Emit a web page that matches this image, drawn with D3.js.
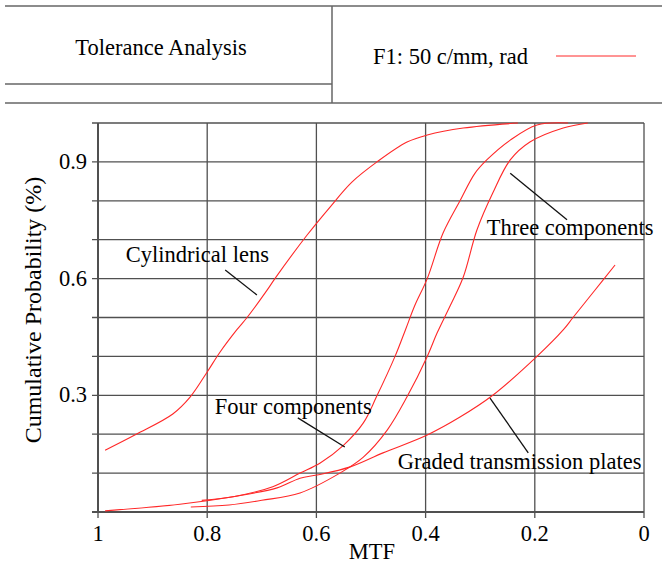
<!DOCTYPE html>
<html>
<head>
<meta charset="utf-8">
<script src="https://cdn.jsdelivr.net/npm/d3@7"></script>
<style>
  body { margin: 0; background: #fff; }
</style>
</head>
<body>
<svg id="chart" width="662" height="570" font-family="'Liberation Serif', 'DejaVu Serif', serif"></svg>
<script>
// Curves: [MTF, cumulative probability]
const cylindricalLens = [
  [0.987, 0.159], [0.93, 0.20], [0.863, 0.252], [0.831, 0.296], [0.80, 0.36],
  [0.777, 0.41], [0.746, 0.468], [0.727, 0.50], [0.69, 0.571], [0.676, 0.60],
  [0.617, 0.712], [0.575, 0.784], [0.535, 0.848], [0.489, 0.90], [0.434, 0.951],
  [0.397, 0.969], [0.331, 0.987], [0.231, 1.0]
];
const fourComponents = [
  [0.81, 0.03], [0.75, 0.04], [0.68, 0.065], [0.63, 0.10], [0.593, 0.126],
  [0.55, 0.172], [0.514, 0.229], [0.49, 0.296], [0.456, 0.40], [0.437, 0.468],
  [0.42, 0.53], [0.397, 0.60], [0.368, 0.717], [0.337, 0.80], [0.31, 0.87],
  [0.288, 0.905], [0.245, 0.956], [0.196, 0.995], [0.139, 1.0]
];
const threeComponents = [
  [0.83, 0.013], [0.76, 0.018], [0.70, 0.03], [0.63, 0.049], [0.557, 0.10],
  [0.514, 0.141], [0.47, 0.211], [0.434, 0.296], [0.397, 0.40], [0.379, 0.46],
  [0.355, 0.53], [0.331, 0.604], [0.306, 0.725], [0.277, 0.82], [0.245, 0.905],
  [0.209, 0.951], [0.148, 0.987], [0.103, 1.0]
];
const gradedPlates = [
  [0.987, 0.003], [0.85, 0.02], [0.75, 0.04], [0.672, 0.062], [0.63, 0.087],
  [0.599, 0.095], [0.538, 0.116], [0.478, 0.152], [0.397, 0.198], [0.337, 0.244],
  [0.277, 0.30], [0.196, 0.40], [0.148, 0.468], [0.13, 0.50], [0.09, 0.57],
  [0.053, 0.635]
];

// Labels with pointer lines, all in data units: [text, textX, textY, fromX, fromY, toX, toY]
const annotations = [
  ["Cylindrical lens", 0.949, 0.643, 0.767, 0.622, 0.709, 0.558],
  ["Three components", 0.288, 0.712, 0.245, 0.871, 0.141, 0.751],
  ["Four components", 0.786, 0.252, 0.634, 0.242, 0.548, 0.167],
  ["Graded transmission plates", 0.451, 0.111, 0.282, 0.293, 0.212, 0.152]
];

const xTicks = [1, 0.8, 0.6, 0.4, 0.2, 0];
const xTickLabels = ["1", "0.8", "0.6", "0.4", "0.2", "0"];
const yGrid = [0, 0.1, 0.2, 0.3, 0.4, 0.5, 0.6, 0.7, 0.8, 0.9, 1];
const yTickLabels = { 0.3: "0.3", 0.6: "0.6", 0.9: "0.9" };

const headerTitle = "Tolerance Analysis";
const legendLabel = "F1: 50 c/mm, rad";
const xTitle = "MTF";
const yTitle = "Cumulative Probability (%)";

const svg = d3.select("#chart");
const gridColor = "#505050";
const red = "#ff2828";
const fs = "22.5px";

// Header box
const header = svg.append("g").attr("stroke", "#666").attr("stroke-width", 1.5);
header.append("line").attr("x1", 5).attr("x2", 662).attr("y1", 6).attr("y2", 6);
header.append("line").attr("x1", 5).attr("x2", 662).attr("y1", 103).attr("y2", 103);
header.append("line").attr("x1", 5).attr("x2", 332).attr("y1", 84).attr("y2", 84);
header.append("line").attr("x1", 332).attr("x2", 332).attr("y1", 6).attr("y2", 103);

svg.append("text").attr("x", 161).attr("y", 55).attr("text-anchor", "middle")
  .style("font-size", fs).text(headerTitle);
svg.append("text").attr("x", 373).attr("y", 64)
  .style("font-size", fs).text(legendLabel);
svg.append("line").attr("x1", 556).attr("x2", 636).attr("y1", 56).attr("y2", 56)
  .attr("stroke", red).attr("stroke-width", 1);

// Scales
const x = d3.scaleLinear().domain([1, 0]).range([98, 644]);
const y = d3.scaleLinear().domain([0, 1]).range([512, 123]);

// Grid
const grid = svg.append("g").attr("stroke", gridColor).attr("stroke-width", 1.3);
grid.selectAll(".hg").data(yGrid).enter().append("line")
  .attr("x1", x(1) - 6).attr("x2", x(0))
  .attr("y1", d => y(d)).attr("y2", d => y(d));
grid.selectAll(".vg").data(xTicks).enter().append("line")
  .attr("x1", d => x(d)).attr("x2", d => x(d))
  .attr("y1", y(1)).attr("y2", y(0) + 6);
grid.append("line").attr("x1", x(1)).attr("x2", x(1)).attr("y1", y(1)).attr("y2", y(0))
  .attr("stroke-width", 2);
grid.append("line").attr("x1", x(1) - 6).attr("x2", x(0)).attr("y1", y(0)).attr("y2", y(0))
  .attr("stroke-width", 2);

// Tick labels
svg.selectAll(".xl").data(xTicks).enter().append("text")
  .attr("x", d => x(d)).attr("y", y(0) + 29).attr("text-anchor", "middle")
  .style("font-size", fs).text((d, i) => xTickLabels[i]);
svg.selectAll(".yl").data(Object.keys(yTickLabels)).enter().append("text")
  .attr("x", x(1) - 11).attr("y", d => y(+d) + 7).attr("text-anchor", "end")
  .style("font-size", fs).text(d => yTickLabels[d]);

// Axis titles
svg.append("text").attr("x", 372).attr("y", 559).attr("text-anchor", "middle")
  .style("font-size", fs).text(xTitle);
svg.append("text").attr("transform", "translate(41,310) rotate(-90)")
  .attr("text-anchor", "middle").style("font-size", "24px").text(yTitle);

// Curves
const line = d3.line().x(d => x(d[0])).y(d => y(d[1])).curve(d3.curveCatmullRom.alpha(0.5));
[cylindricalLens, fourComponents, threeComponents, gradedPlates].forEach(series => {
  svg.append("path").datum(series)
    .attr("fill", "none").attr("stroke", red).attr("stroke-width", 1.1)
    .attr("d", line);
});

// Annotations
annotations.forEach(a => {
  svg.append("line")
    .attr("x1", x(a[3])).attr("y1", y(a[4])).attr("x2", x(a[5])).attr("y2", y(a[6]))
    .attr("stroke", "#111").attr("stroke-width", 1.3);
  svg.append("text").attr("x", x(a[1])).attr("y", y(a[2]))
    .style("font-size", fs).text(a[0]);
});
</script>
</body>
</html>
